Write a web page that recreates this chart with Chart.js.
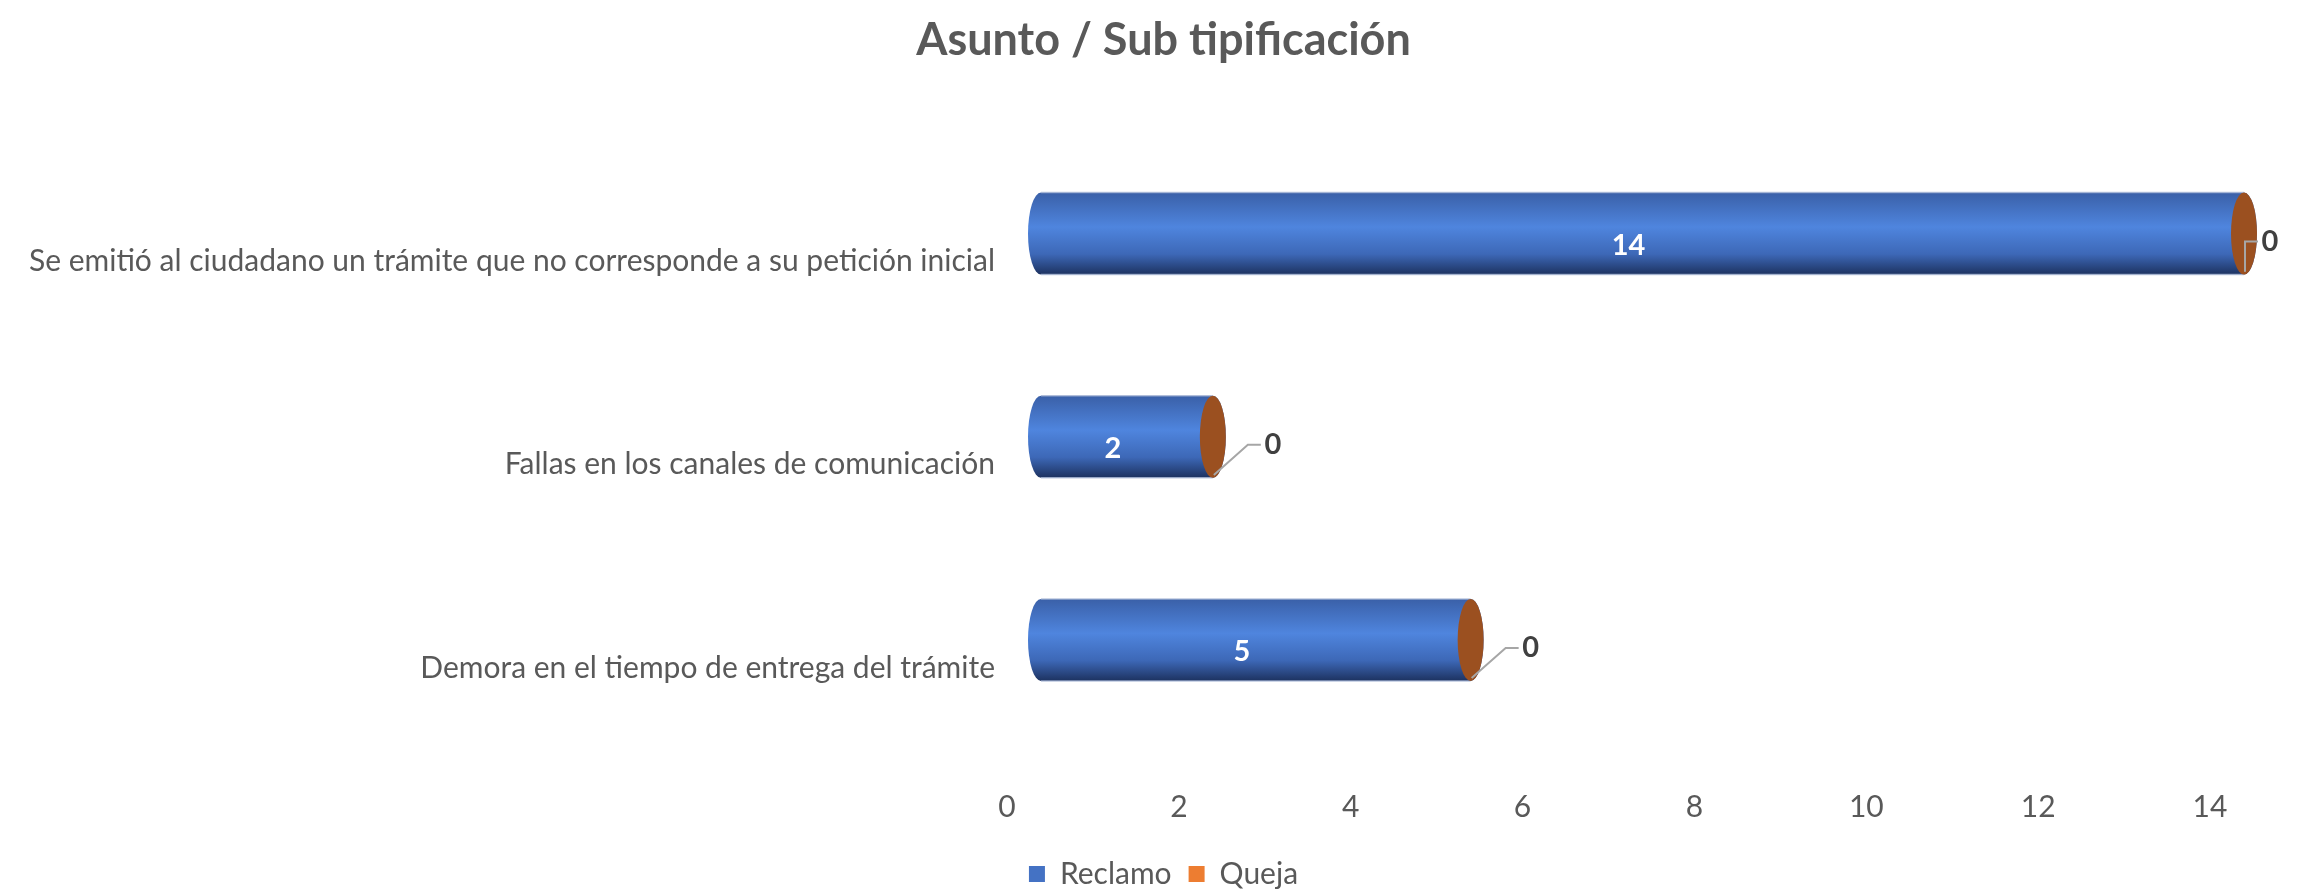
<!DOCTYPE html>
<html>
<head>
<meta charset="utf-8">
<script src="https://cdn.jsdelivr.net/npm/chart.js@4.4.1/dist/chart.umd.min.js"></script>
<style>
  html, body { margin: 0; padding: 0; background: #fff; }
  #wrap { width: 2308px; height: 890px; }
</style>
</head>
<body>
<div id="wrap"><canvas id="chart" width="2308" height="890"></canvas></div>
<script>
const categories = [
  'Se emitió al ciudadano un trámite que no corresponde a su petición inicial',
  'Fallas en los canales de comunicación',
  'Demora en el tiempo de entrega del trámite'
];
const reclamo = [14, 2, 5];
const queja = [0, 0, 0];
const xTicks = [0, 2, 4, 6, 8, 10, 12, 14];

const FONT = 'Lato, "Open Sans", sans-serif';
const GREY = '#595959';

// 3D look: cylinders are shifted right of the tick positions, like in the original
const DX = 34;
const RX = 13;

const cylinders = {
  id: 'cylinders',
  afterLayout(chart) {
    // let the long category label run past the padded left edge (labels are clipped to the axis box)
    chart.scales.y.left = 0;
  },
  beforeDatasetDraw() { return false; }, // default flat bars are replaced below
  afterDatasetsDraw(chart) {
    const ctx = chart.ctx;
    const bars = chart.getDatasetMeta(0).data;
    const caps = chart.getDatasetMeta(1).data;
    bars.forEach((bar, i) => {
      const xs = bar.base + DX, xe = bar.x + DX;
      const cy = bar.y, ry = bar.height / 2;
      const top = cy - ry, bottom = cy + ry;

      const g = ctx.createLinearGradient(0, top, 0, bottom);
      g.addColorStop(0, '#3A60A8');
      g.addColorStop(0.42, '#4F85DE');
      g.addColorStop(0.75, '#3D68B7');
      g.addColorStop(1, '#1D3260');

      ctx.save();
      ctx.beginPath();
      ctx.moveTo(xs, top);
      ctx.lineTo(xe, top);
      ctx.ellipse(xe, cy, RX, ry, 0, -Math.PI / 2, Math.PI / 2);
      ctx.lineTo(xs, bottom);
      ctx.ellipse(xs, cy, RX, ry, 0, Math.PI / 2, Math.PI * 1.5);
      ctx.closePath();
      ctx.fillStyle = g;
      ctx.fill();

      // faint rim lines on top and bottom
      ctx.strokeStyle = 'rgba(170,185,215,0.8)';
      ctx.lineWidth = 1.5;
      ctx.beginPath();
      ctx.moveTo(xs, top); ctx.lineTo(xe, top);
      ctx.moveTo(xs, bottom); ctx.lineTo(xe, bottom);
      ctx.stroke();

      // Queja (value 0) shows as the orange end face
      const cx = caps[i].x + DX;
      ctx.beginPath();
      ctx.ellipse(cx, cy, RX, ry, 0, 0, Math.PI * 2);
      ctx.fillStyle = '#9B5020';
      ctx.fill();

      // Reclamo value
      ctx.font = 'bold 29px ' + FONT;
      ctx.fillStyle = '#ffffff';
      ctx.textAlign = 'center';
      ctx.textBaseline = 'middle';
      ctx.fillText(String(reclamo[i]), (bar.base + bar.x) / 2 + 20, cy + 12);

      // Queja value with leader line
      const lx = Math.min(cx + 60, chart.width - 38);
      const ly = cy + 8;
      ctx.strokeStyle = '#A6A6A6';
      ctx.lineWidth = 2;
      ctx.beginPath();
      ctx.moveTo(cx + 1, cy + ry * 0.93);
      ctx.lineTo(lx - 25, ly);
      ctx.lineTo(lx - 12, ly);
      ctx.stroke();
      ctx.fillStyle = '#404040';
      ctx.fillText(String(queja[i]), lx, ly);
      ctx.restore();
    });
  }
};

new Chart(document.getElementById('chart'), {
  type: 'bar',
  data: {
    labels: categories,
    datasets: [
      { label: 'Reclamo', data: reclamo, backgroundColor: '#4472C4', borderWidth: 0 },
      { label: 'Queja', data: queja, backgroundColor: '#ED7D31', borderWidth: 0 }
    ]
  },
  options: {
    indexAxis: 'y',
    responsive: false,
    animation: false,
    devicePixelRatio: 1,
    categoryPercentage: 1,
    barPercentage: 0.404,
    layout: { padding: { left: 117, right: 98, top: 0, bottom: -9 } },
    scales: {
      x: {
        stacked: true,
        min: 0,
        max: 14,
        afterBuildTicks: s => { s.ticks = xTicks.map(v => ({ value: v })); },
        afterFit: s => { s.height = 100.5; },
        grid: { display: false, drawTicks: false },
        border: { display: false },
        ticks: { color: GREY, font: { family: FONT, size: 30 }, padding: 48 }
      },
      y: {
        stacked: true,
        afterFit: s => { s.width = 890; },
        grid: { display: false, drawTicks: false },
        border: { display: false },
        ticks: { color: GREY, font: { family: FONT, size: 30 }, padding: 12, labelOffset: 28 }
      }
    },
    plugins: {
      title: {
        display: true,
        text: 'Asunto / Sub tipificación',
        color: GREY,
        font: { family: FONT, size: 45, weight: 'bold' },
        padding: { top: 13, bottom: 65 }
      },
      legend: {
        position: 'bottom',
        labels: {
          color: GREY,
          font: { family: FONT, size: 30 },
          boxWidth: 16,
          boxHeight: 16,
          padding: 17
        }
      },
      tooltip: { enabled: false }
    }
  },
  plugins: [cylinders]
});
</script>
</body>
</html>
